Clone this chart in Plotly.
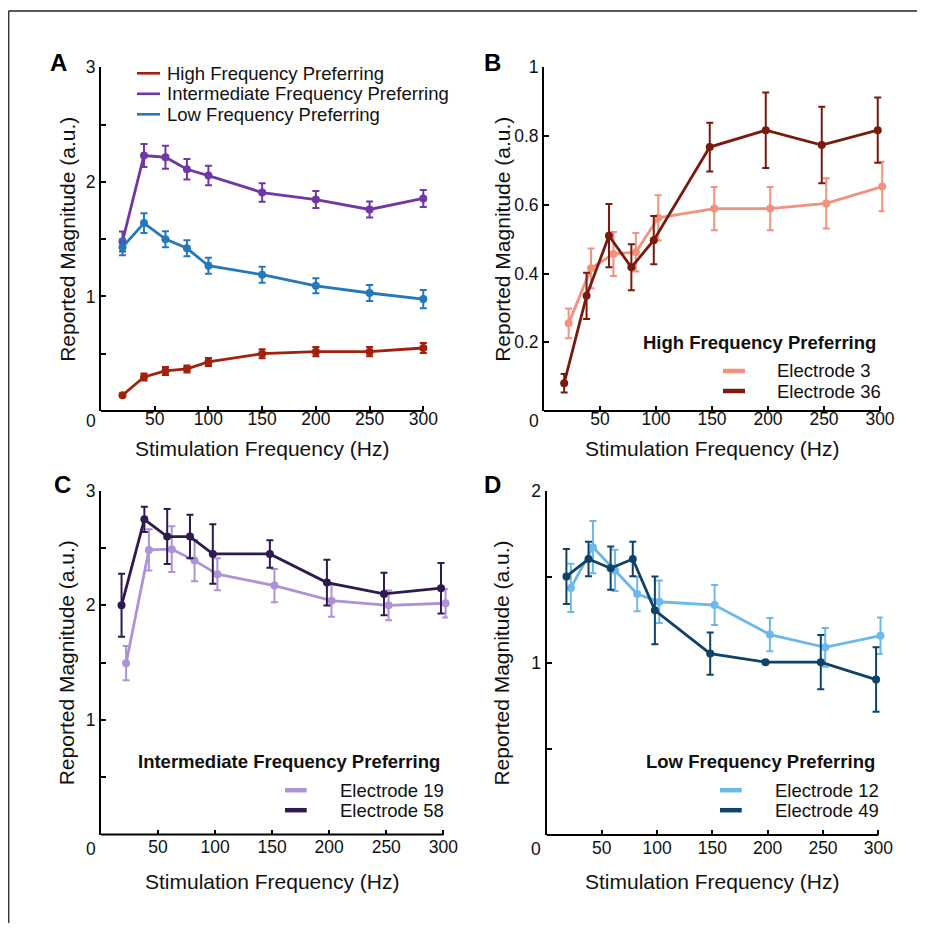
import plotly.graph_objects as go

freq = [20, 40, 60, 80, 100, 150, 200, 250, 300]

# Panel A: group averages
high_mean = [0.137, 0.297, 0.35, 0.367, 0.428, 0.50, 0.518, 0.518, 0.55]
high_err = [0.015, 0.03, 0.035, 0.03, 0.035, 0.04, 0.04, 0.04, 0.044]
inter_mean = [1.48, 2.23, 2.215, 2.11, 2.055, 1.907, 1.846, 1.759, 1.855]
inter_err = [0.087, 0.10, 0.10, 0.09, 0.085, 0.08, 0.075, 0.07, 0.075]
low_mean = [1.43, 1.64, 1.50, 1.42, 1.268, 1.19, 1.093, 1.03, 0.977]
low_err = [0.07, 0.087, 0.07, 0.07, 0.07, 0.07, 0.065, 0.07, 0.08]

# Panel B: high frequency preferring electrodes
e3_mean = [0.255, 0.415, 0.457, 0.462, 0.562, 0.589, 0.589, 0.604, 0.653]
e3_err = [0.043, 0.058, 0.064, 0.056, 0.066, 0.063, 0.063, 0.073, 0.072]
e36_mean = [0.081, 0.335, 0.51, 0.418, 0.497, 0.768, 0.817, 0.774, 0.817]
e36_err = [0.027, 0.067, 0.092, 0.067, 0.07, 0.071, 0.11, 0.111, 0.095]

# Panel C: intermediate frequency preferring electrodes
e19_mean = [1.495, 2.483, 2.49, 2.39, 2.271, 2.172, 2.04, 2.0, 2.018]
e19_err = [0.15, 0.18, 0.2, 0.18, 0.14, 0.145, 0.14, 0.13, 0.125]
e58_mean = [2.0, 2.75, 2.6, 2.6, 2.448, 2.448, 2.198, 2.099, 2.149]
e58_err = [0.275, 0.11, 0.24, 0.19, 0.26, 0.12, 0.2, 0.186, 0.22]

# Panel D: low frequency preferring electrodes
e12_mean = [1.435, 1.672, 1.537, 1.4, 1.355, 1.336, 1.164, 1.09, 1.158]
e12_err = [0.14, 0.152, 0.12, 0.1, 0.124, 0.116, 0.096, 0.113, 0.106]
e49_mean = [1.502, 1.603, 1.55, 1.603, 1.305, 1.054, 1.004, 1.004, 0.903]
e49_err = [0.16, 0.1, 0.126, 0.1, 0.197, 0.123, 0.0, 0.158, 0.187]

x_ticks = [50, 100, 150, 200, 250, 300]

# page is shown with an 8px body margin; coordinates below are page pixels
OFF = 8
W, H = 925 - OFF, 931 - 2 * OFF
FONT = "Liberation Sans, Arial, Helvetica, sans-serif"

C_HIGH = "#A2200C"
C_INTER = "#7038A4"
C_LOW = "#2479BC"
C_E3 = "#F2917E"
C_E36 = "#7A1A0E"
C_E19 = "#AE92D6"
C_E58 = "#2E1A4E"
C_E12 = "#6DB8EA"
C_E49 = "#0E4268"

JIT = 2.0      # small horizontal jitter between overlaid electrodes
XMAX = 304     # data range end (axis line drawn only to 300)


def px_x(p):
    return (p - OFF) / W


def px_y(p):
    return 1 - (p - OFF) / H


fig = go.Figure()


def add_series(xs, ys, errs, color, ax, lw=2.8, ms=8):
    fig.add_trace(go.Scatter(
        x=xs, y=ys, mode="lines+markers",
        line=dict(color=color, width=lw),
        marker=dict(color=color, size=ms),
        error_y=dict(type="data", array=errs, visible=True, color=color,
                     thickness=2, width=3.5),
        xaxis="x" + ax, yaxis="y" + ax, cliponaxis=False, showlegend=False,
        hoverinfo="x+y",
    ))


# Panel A
add_series(freq, high_mean, high_err, C_HIGH, "")
add_series(freq, inter_mean, inter_err, C_INTER, "")
add_series(freq, low_mean, low_err, C_LOW, "")
# Panel B
add_series([f + JIT for f in freq], e3_mean, e3_err, C_E3, "2")
add_series([f - JIT for f in freq], e36_mean, e36_err, C_E36, "2")
# Panel C
add_series([f + JIT for f in freq], e19_mean, e19_err, C_E19, "3")
add_series([f - JIT for f in freq], e58_mean, e58_err, C_E58, "3")
# Panel D
add_series([f + JIT for f in freq], e12_mean, e12_err, C_E12, "4")
add_series([f - JIT for f in freq], e49_mean, e49_err, C_E49, "4")

tickfont = dict(family=FONT, size=17.5, color="#111")
titlefont = dict(family=FONT, size=21, color="#111")
legfont = dict(family=FONT, size=18.5, color="#111")


def xaxis(dom, anchor, standoff):
    return dict(domain=dom, anchor=anchor, range=[0, XMAX], showgrid=False,
                zeroline=False, showline=False,
                ticks="inside", ticklen=5, tickwidth=1.5, tickcolor="black",
                tickvals=x_ticks, ticktext=[str(v) for v in x_ticks],
                tickfont=tickfont, ticklabelstandoff=standoff, automargin=False)


def yaxis(dom, anchor, rng, tv, tt):
    return dict(domain=dom, anchor=anchor, range=rng, showgrid=False,
                zeroline=False, showline=True, linecolor="black", linewidth=2,
                ticks="inside", ticklen=5, tickwidth=1.5, tickcolor="black",
                tickvals=tv, ticktext=tt, tickfont=tickfont, automargin=False)


# panels: (x0 px, px per Hz, y top px, y bottom px)
panels = {
    "": (101.0, 1.0743, 67.3, 411.0),
    "2": (544.0, 1.12, 67.3, 411.0),
    "3": (101.0, 1.141, 490.7, 834.5),
    "4": (546.5, 1.106, 490.7, 835.0),
}


def doms(k):
    x0, s, yt, yb = panels[k]
    return [px_x(x0), px_x(x0 + XMAX * s)], [px_y(yb), px_y(yt)]


dA = doms("")
dB = doms("2")
dC = doms("3")
dD = doms("4")

fig.update_layout(
    width=W, height=H,
    margin=dict(l=0, r=0, t=0, b=0),
    paper_bgcolor="white", plot_bgcolor="white",
    font=dict(family=FONT, color="#111"),
    xaxis=xaxis(dA[0], "y", -5),
    yaxis=yaxis(dA[1], "x", [0, 3], [0.5, 1, 1.5, 2, 2.5, 3], ["", "1", "", "2", "", "3"]),
    xaxis2=xaxis(dB[0], "y2", -5),
    yaxis2=yaxis(dB[1], "x2", [0, 1], [0.2, 0.4, 0.6, 0.8, 1], ["0.2", "0.4", "0.6", "0.8", "1"]),
    xaxis3=xaxis(dC[0], "y3", 0),
    yaxis3=yaxis(dC[1], "x3", [0, 3], [0.5, 1, 1.5, 2, 2.5, 3], ["", "1", "", "2", "", "3"]),
    xaxis4=xaxis(dD[0], "y4", 0),
    yaxis4=yaxis(dD[1], "x4", [0, 2], [0.5, 1, 1.5, 2], ["", "1", "", "2"]),
    showlegend=False,
)

annotations = []
shapes = []

label_y = {"": 420.7, "2": 420.7, "3": 848.5, "4": 848.5}
xtitle_y = {"": 448.3, "2": 448.3, "3": 881.7, "4": 881.7}
ytitle_x = {"": 66.7, "2": 501.7, "3": 66.7, "4": 501.7}

for ax, (x0, s, yt, yb) in panels.items():
    # x axis line from 0 to 300 Hz
    shapes.append(dict(type="line", xref="x" + ax, yref="y" + ax + " domain",
                       x0=0, x1=300, y0=0, y1=0, line=dict(color="black", width=2)))
    # origin "0" label
    annotations.append(dict(text="0", x=px_x(x0 - 10.5), y=px_y(label_y[ax]), xref="paper",
                            yref="paper", xanchor="center", yanchor="middle",
                            showarrow=False, font=tickfont))
    # axis titles
    annotations.append(dict(text="Stimulation Frequency (Hz)", x=px_x(x0 + 150 * s),
                            y=px_y(xtitle_y[ax]), xref="paper", yref="paper",
                            xanchor="center", yanchor="middle", showarrow=False, font=titlefont))
    annotations.append(dict(text="Reported Magnitude (a.u.)", x=px_x(ytitle_x[ax]),
                            y=px_y((yt + yb) / 2), xref="paper", yref="paper", textangle=-90,
                            xanchor="center", yanchor="middle", showarrow=False, font=titlefont))

# Panel letters
for letter, xp, yp in [("A", 58, 62), ("B", 492, 62), ("C", 62, 485), ("D", 492, 485)]:
    annotations.append(dict(text="<b>" + letter + "</b>", x=px_x(xp), y=px_y(yp),
                            xref="paper", yref="paper", xanchor="center", yanchor="middle",
                            showarrow=False, font=dict(family=FONT, size=24, color="black")))

# Panel A legend
for label, color, yp in [("High Frequency Preferring", C_HIGH, 73.3),
                         ("Intermediate Frequency Preferring", C_INTER, 93.8),
                         ("Low Frequency Preferring", C_LOW, 114.3)]:
    shapes.append(dict(type="line", xref="paper", yref="paper",
                       x0=px_x(137), x1=px_x(160), y0=px_y(yp), y1=px_y(yp),
                       line=dict(color=color, width=2.6)))
    annotations.append(dict(text=label, x=px_x(165), y=px_y(yp), xref="paper", yref="paper",
                            xanchor="left", yanchor="middle", showarrow=False, font=legfont))


def panel_legend(title, items, title_right, title_y, line_x0, line_x1, text_left):
    annotations.append(dict(text="<b>" + title + "</b>", x=px_x(title_right), y=px_y(title_y),
                            xref="paper", yref="paper", xanchor="right", yanchor="middle",
                            showarrow=False, font=legfont))
    for i, (label, color) in enumerate(items):
        yp = title_y + 28.5 + 20 * i
        shapes.append(dict(type="line", xref="paper", yref="paper",
                           x0=px_x(line_x0), x1=px_x(line_x1), y0=px_y(yp), y1=px_y(yp),
                           line=dict(color=color, width=4.5)))
        annotations.append(dict(text=label, x=px_x(text_left), y=px_y(yp), xref="paper",
                                yref="paper", xanchor="left", yanchor="middle",
                                showarrow=False, font=legfont))


panel_legend("High Frequency Preferring", [("Electrode 3", C_E3), ("Electrode 36", C_E36)],
             878, 342.5, 723, 745, 775)
panel_legend("Intermediate Frequency Preferring", [("Electrode 19", C_E19), ("Electrode 58", C_E58)],
             441.7, 761.7, 285, 306.7, 338)
panel_legend("Low Frequency Preferring", [("Electrode 12", C_E12), ("Electrode 49", C_E49)],
             876.7, 761.7, 720, 741.7, 773)

# Outer frame (top and left edges)
shapes.append(dict(type="line", xref="paper", yref="paper", x0=0.0005, x1=1.0,
                   y0=px_y(11), y1=px_y(11), line=dict(color="#222", width=1.3)))
shapes.append(dict(type="line", xref="paper", yref="paper", x0=0.0008, x1=0.0008,
                   y0=px_y(11), y1=0, line=dict(color="#222", width=1.3)))

fig.update_layout(annotations=annotations, shapes=shapes)

fig.write_html("out.html")
